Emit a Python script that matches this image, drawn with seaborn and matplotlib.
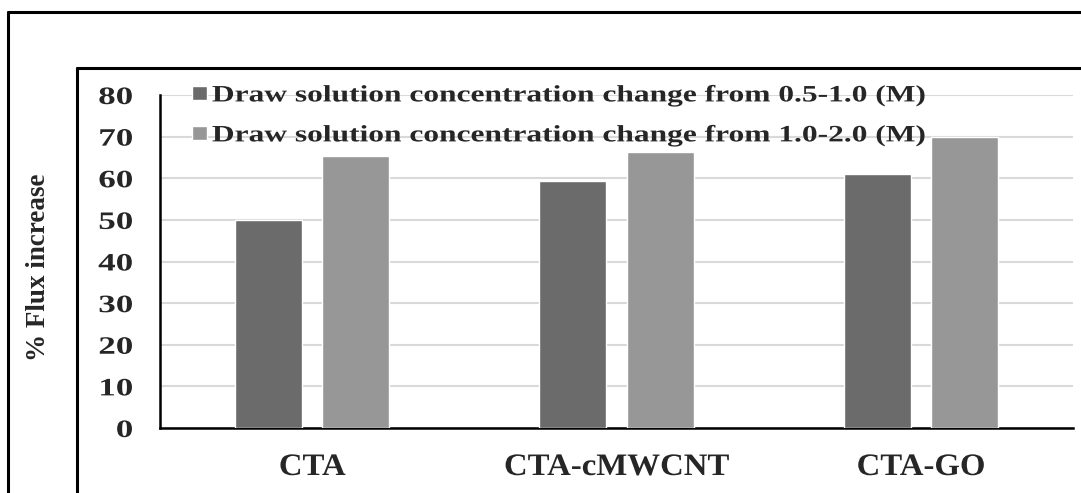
import matplotlib
matplotlib.use("Agg")
import matplotlib.pyplot as plt
from matplotlib.lines import Line2D
from matplotlib.patheffects import AbstractPathEffect
from matplotlib.transforms import Affine2D
import seaborn as sns
import pandas as pd

# Membranes and flux increase (%) for the two draw-solution concentration steps
membranes = ["CTA", "CTA-cMWCNT", "CTA-GO"]
series_names = [
    "Draw solution concentration change from 0.5-1.0 (M)",
    "Draw solution concentration change from 1.0-2.0 (M)",
]
increase_low = [50.0, 59.4, 61.0]
increase_high = [65.4, 66.3, 69.9]
y_ticks = [0, 10, 20, 30, 40, 50, 60, 70, 80]

df = pd.DataFrame({
    "membrane": membranes * 2,
    "series": [series_names[0]] * 3 + [series_names[1]] * 3,
    "value": increase_low + increase_high,
})


class Stretch(AbstractPathEffect):
    """Widen glyphs along the text direction around a chosen anchor."""

    def __init__(self, sx, anchor=0.5):
        super().__init__()
        self.sx = sx
        self.anchor = anchor

    def draw_path(self, renderer, gc, tpath, affine, rgbFace=None):
        v = tpath.vertices
        x0 = 0.0
        if len(v):
            lo, hi = v[:, 0].min(), v[:, 0].max()
            x0 = lo + self.anchor * (hi - lo)
        t = Affine2D().translate(-x0, 0).scale(self.sx, 1).translate(x0, 0) + affine
        renderer.draw_path(gc, tpath, t, rgbFace)


sns.set_style("white")
plt.rcParams["font.family"] = ["Liberation Serif", "DejaVu Serif"]
plt.rcParams["font.weight"] = "bold"

W, H = 1081, 493
fig = plt.figure(figsize=(W / 100, H / 100), dpi=100)
ax = fig.add_axes([160 / W, 1 - 428 / H, (1073 - 160) / W, (428 - 95) / H])

sns.barplot(
    data=df, x="membrane", y="value", hue="series",
    palette=["#6b6b6b", "#979797"], width=0.572, gap=0.23,
    saturation=1, ax=ax, zorder=3,
)

ax.set_ylim(0, 80)
ax.set_xlim(-0.5, 2.5)
ax.set_yticks(y_ticks)
ytl = ax.set_yticklabels([str(t) for t in y_ticks], fontsize=18, fontweight="bold")
ax.set_xticks(range(len(membranes)))
xtl = ax.set_xticklabels(membranes, fontsize=22.5, fontweight="bold")
ax.tick_params(axis="y", length=0, pad=19.5)
ax.tick_params(axis="x", length=0, pad=18)
for t in ytl:
    t.set_path_effects([Stretch(1.4, anchor=1.0)])
for t in xtl:
    t.set_path_effects([Stretch(1.05, anchor=0.5)])
ax.set_xlabel("")
ax.set_ylabel("")

fig.text(38.8 / W, 1 - 267 / H, "% Flux increase", rotation=90,
         ha="center", va="center", fontsize=19.5, fontweight="bold")

ax.yaxis.grid(True, color="#d9d9d9", linewidth=1.5, zorder=0)
ax.set_axisbelow(True)
for side in ["top", "right"]:
    ax.spines[side].set_visible(False)
for side in ["left", "bottom"]:
    ax.spines[side].set_color("black")
    ax.spines[side].set_linewidth(1.8)

leg = ax.legend(
    loc="center left", bbox_to_anchor=(0.035, 0.9375), frameon=False,
    prop={"family": "Liberation Serif", "weight": "bold", "size": 16.9},
    handlelength=0.64, handleheight=0.51, handletextpad=0.21, labelspacing=0.8,
    borderaxespad=0, borderpad=0,
)
for t in leg.get_texts():
    t.set_path_effects([Stretch(1.34, anchor=0.0)])

# Framing lines around the panel
lw = 2.2
fig.add_artist(Line2D([8 / W, 8 / W], [0, 1 - 12 / H], color="black", lw=lw))
fig.add_artist(Line2D([8 / W, 1], [1 - 12 / H, 1 - 12 / H], color="black", lw=lw))
fig.add_artist(Line2D([77 / W, 77 / W], [0, 1 - 68 / H], color="black", lw=lw))
fig.add_artist(Line2D([77 / W, 1], [1 - 68 / H, 1 - 68 / H], color="black", lw=lw))

fig.savefig("out.png", dpi=100, facecolor="white")
